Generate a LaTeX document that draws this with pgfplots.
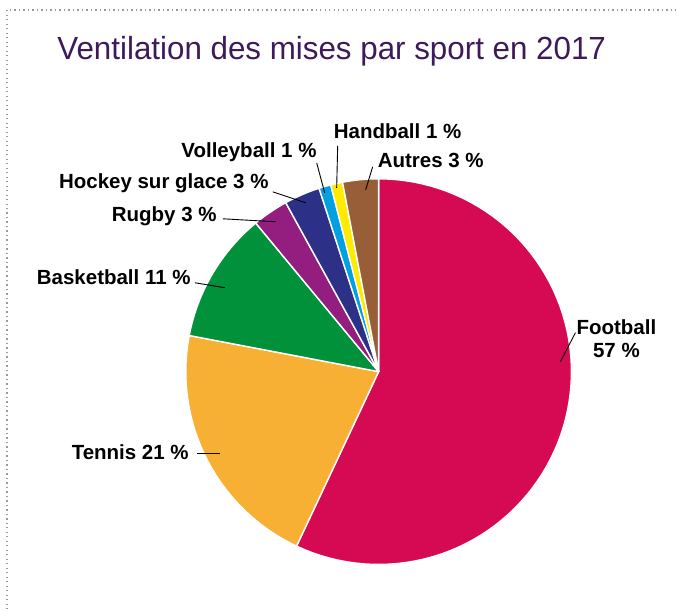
\documentclass[border=0pt]{standalone}
\usepackage{pgfplots}
\pgfplotsset{compat=1.18}
\usepackage{fontspec}
\setmainfont{Liberation Sans}
\definecolor{titlec}{RGB}{62,26,90}
\definecolor{cfoot}{RGB}{214,10,82}
\definecolor{cten}{RGB}{248,176,52}
\definecolor{cbask}{RGB}{0,145,58}
\definecolor{crug}{RGB}{148,30,128}
\definecolor{choc}{RGB}{45,48,135}
\definecolor{cvol}{RGB}{0,160,225}
\definecolor{chand}{RGB}{255,234,0}
\definecolor{caut}{RGB}{152,94,56}
% pie geometry (pixel units of the 677x610 frame)
\def\cx{379}\def\cy{238}\def\R{193}
\begin{document}
\begin{tikzpicture}
\begin{axis}[
    width=677pt, height=610pt, scale only axis,
    xmin=0, xmax=677, ymin=0, ymax=610,
    axis lines=none, clip=false,
    every axis plot/.append style={line join=round},
]
\path (axis cs:0,0) rectangle (axis cs:677,610);
% dotted frame
\addplot[gray!80, line width=1.3pt, dash pattern=on 1.3pt off 3.2pt] coordinates {(7,0) (7,600) (677,600)};
% slices: shares in percent, clockwise from the top
% Football 57, Tennis 21, Basketball 11, Rugby 3, Hockey 3, Volleyball 1, Handball 1, Autres 3
\pgfplotsset{slice/.style={draw=white, line width=1.4pt, samples=80}}
\addplot[slice, fill=cfoot, domain={90-3.6*57}:{90}] ({\cx+\R*cos(x)},{\cy+\R*sin(x)}) -- (axis cs:\cx,\cy) -- cycle;
\addplot[slice, fill=cten, domain={90-3.6*78}:{90-3.6*57}] ({\cx+\R*cos(x)},{\cy+\R*sin(x)}) -- (axis cs:\cx,\cy) -- cycle;
\addplot[slice, fill=cbask, domain={90-3.6*89}:{90-3.6*78}] ({\cx+\R*cos(x)},{\cy+\R*sin(x)}) -- (axis cs:\cx,\cy) -- cycle;
\addplot[slice, fill=crug, domain={90-3.6*92}:{90-3.6*89}] ({\cx+\R*cos(x)},{\cy+\R*sin(x)}) -- (axis cs:\cx,\cy) -- cycle;
\addplot[slice, fill=choc, domain={90-3.6*95}:{90-3.6*92}] ({\cx+\R*cos(x)},{\cy+\R*sin(x)}) -- (axis cs:\cx,\cy) -- cycle;
\addplot[slice, fill=cvol, domain={90-3.6*96}:{90-3.6*95}] ({\cx+\R*cos(x)},{\cy+\R*sin(x)}) -- (axis cs:\cx,\cy) -- cycle;
\addplot[slice, fill=chand, domain={90-3.6*97}:{90-3.6*96}] ({\cx+\R*cos(x)},{\cy+\R*sin(x)}) -- (axis cs:\cx,\cy) -- cycle;
\addplot[slice, fill=caut, domain={90-3.6*100}:{90-3.6*97}] ({\cx+\R*cos(x)},{\cy+\R*sin(x)}) -- (axis cs:\cx,\cy) -- cycle;
% leader lines
\pgfplotsset{lead/.style={black, line width=0.9pt}}
\addplot[lead] coordinates {(561,248) (576,277)};
\addplot[lead] coordinates {(197,156) (220,156)};
\addplot[lead] coordinates {(195,327) (225,322)};
\addplot[lead] coordinates {(223,391) (276,388)};
\addplot[lead] coordinates {(273,418) (306,407)};
\addplot[lead] coordinates {(317,447) (325,417)};
\addplot[lead] coordinates {(338,464) (337,422)};
\addplot[lead] coordinates {(373,443) (366,420)};
% labels
\tikzset{lab/.style={font=\fontsize{20.5}{23}\selectfont\bfseries, inner sep=0pt}}
\node[lab, anchor=east] at (axis cs:189,157) {Tennis 21 \%};
\node[lab, anchor=east] at (axis cs:191,333) {Basketball 11 \%};
\node[lab, anchor=east] at (axis cs:217,394) {Rugby 3 \%};
\node[lab, anchor=east] at (axis cs:269,427) {Hockey sur glace 3 \%};
\node[lab, anchor=east] at (axis cs:317,458) {Volleyball 1 \%};
\node[lab, anchor=west] at (axis cs:334,479) {Handball 1 \%};
\node[lab, anchor=west] at (axis cs:378,449) {Autres 3 \%};
\node[lab, align=center] at (axis cs:617,271) {Football\\57 \%};
% title
\node[text=titlec, font=\fontsize{32}{35}\selectfont, inner sep=0pt] at (axis cs:332,559) {\scalebox{0.98}[1]{Ventilation des mises par sport en 2017}};
\end{axis}
\end{tikzpicture}
\end{document}
